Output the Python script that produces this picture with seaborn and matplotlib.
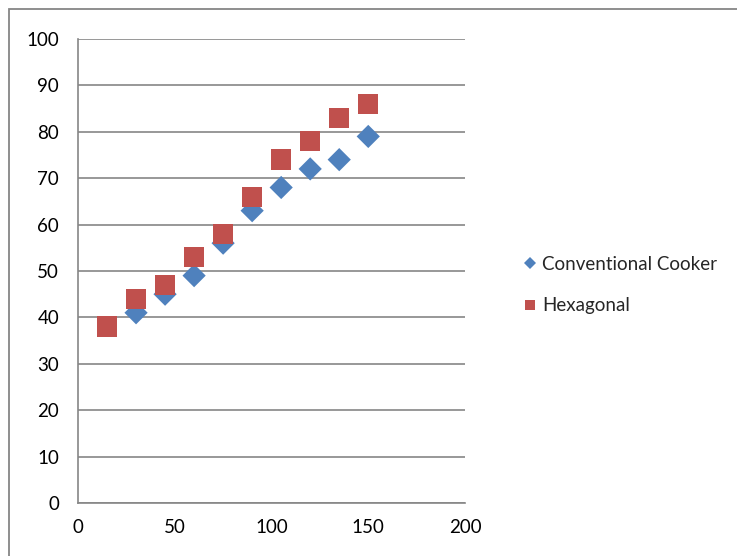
import matplotlib
matplotlib.use('Agg')
import matplotlib.pyplot as plt
import seaborn as sns
import pandas as pd
from matplotlib.lines import Line2D
from matplotlib.patches import Rectangle

# data
conv_x = [30, 45, 60, 75, 90, 105, 120, 135, 150]
conv_y = [41, 45, 49, 56, 63, 68, 72, 74, 79]
hex_x = [15, 30, 45, 60, 75, 90, 105, 120, 135, 150]
hex_y = [38, 44, 47, 53, 58, 66, 74, 78, 83, 86]
x_ticks = [0, 50, 100, 150, 200]
y_ticks = [0, 10, 20, 30, 40, 50, 60, 70, 80, 90, 100]

blue = '#4F81BD'
red = '#C0504D'
grey = '#868686'

conv = pd.DataFrame({'x': conv_x, 'y': conv_y})
hexa = pd.DataFrame({'x': hex_x, 'y': hex_y})

sns.set_style('white')
plt.rcParams['font.family'] = ['Lato', 'DejaVu Sans']

fig = plt.figure(figsize=(7.37, 5.56), dpi=100)
ax = fig.add_axes([78 / 737, 1 - 503 / 556, (465 - 78) / 737, (503 - 39) / 556])

sns.scatterplot(data=conv, x='x', y='y', marker='D', s=140, color=blue,
                edgecolor='none', linewidth=0, ax=ax, zorder=3)
sns.scatterplot(data=hexa, x='x', y='y', marker='s', s=215, color=red,
                edgecolor='none', linewidth=0, ax=ax, zorder=4)

ax.set_xlim(0, 200)
ax.set_ylim(0, 100)
ax.set_xticks(x_ticks)
ax.set_yticks(y_ticks)
ax.set_xlabel('')
ax.set_ylabel('')

ax.yaxis.grid(True, color=grey, linewidth=1.2)
ax.xaxis.grid(False)
ax.set_axisbelow(True)
for side in ['top', 'right']:
    ax.spines[side].set_visible(False)
for side in ['left', 'bottom']:
    ax.spines[side].set_color(grey)
    ax.spines[side].set_linewidth(1.2)
ax.tick_params(axis='both', which='major', direction='out', length=4.5,
               width=1.2, color=grey, labelsize=13.5, labelcolor='black')
ax.tick_params(axis='y', pad=9)
ax.tick_params(axis='x', pad=7)

# legend
handles = [
    Line2D([], [], marker='D', linestyle='none', color=blue, markersize=6.5,
           markeredgewidth=0, label='Conventional Cooker'),
    Line2D([], [], marker='s', linestyle='none', color=red, markersize=7.5,
           markeredgewidth=0, label='Hexagonal'),
]
fig.legend(handles=handles, loc='center left',
           bbox_to_anchor=(517 / 737, 1 - 285 / 556), frameon=False,
           fontsize=13.5, handlelength=0.6, handletextpad=0.35,
           labelspacing=1.3, borderaxespad=0)

# outer chart border (cropped on the right and bottom)
fig.patches.append(Rectangle((9 / 737, -0.1), 2, 1.1 - 9 / 556,
                             transform=fig.transFigure, fill=False,
                             edgecolor=grey, linewidth=1.3))

fig.savefig('out.png', dpi=100)
